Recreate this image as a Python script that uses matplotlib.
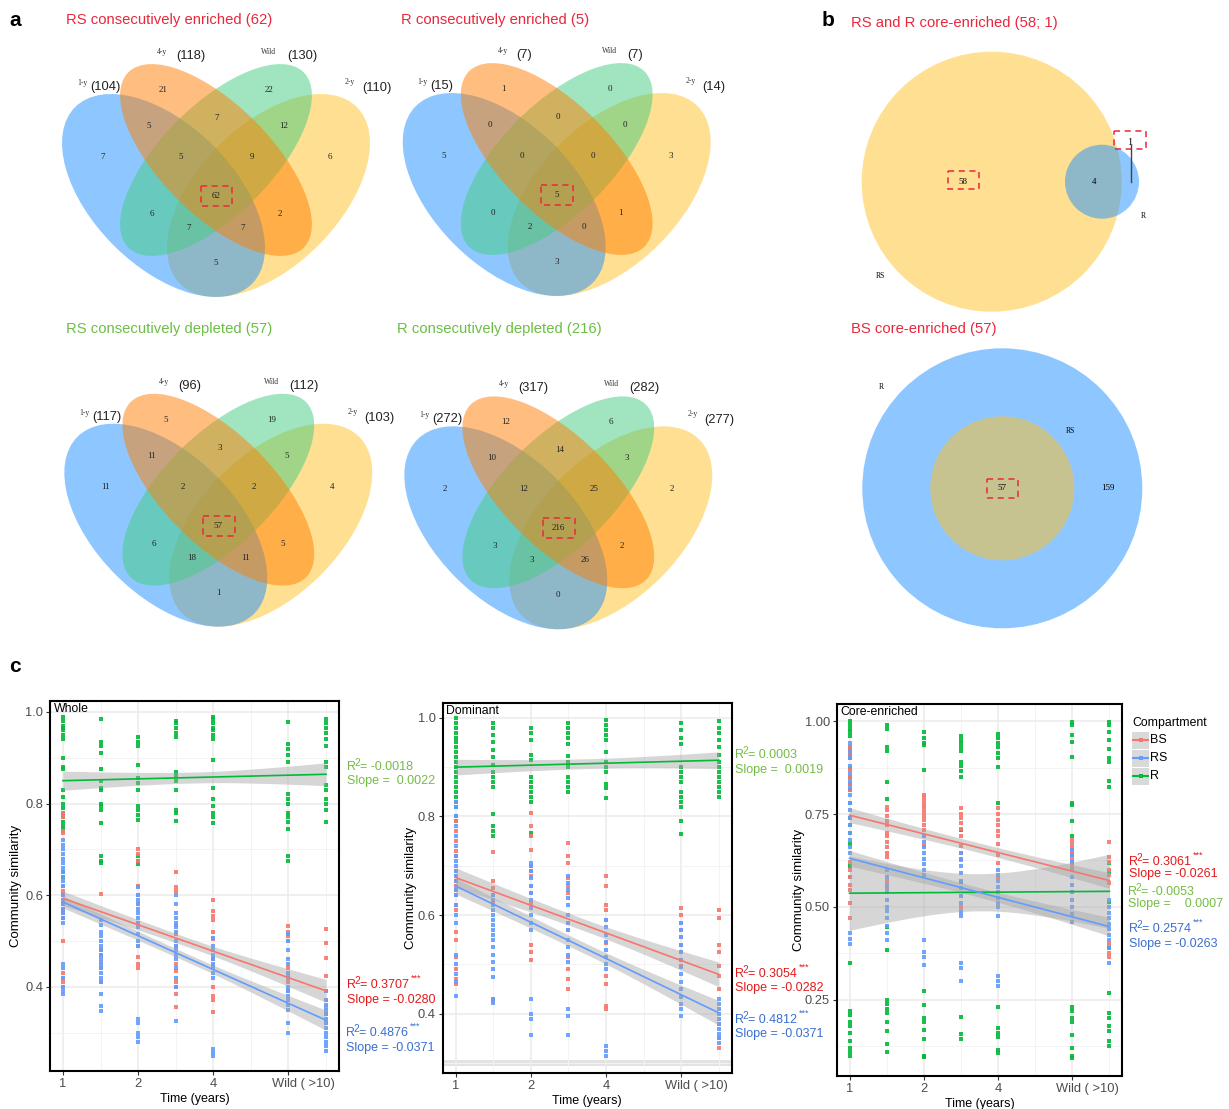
import numpy as np
import matplotlib
matplotlib.use("Agg")
import matplotlib.pyplot as plt
from matplotlib.patches import Ellipse, Circle, Rectangle
import matplotlib.transforms as mtransforms

plt.rcParams['font.family'] = ['Liberation Sans', 'DejaVu Sans']

W, H = 1229, 1109

# ---------------- panel a: four-set Venn counts ----------------
set_names = ["1-y", "4-y", "Wild", "2-y"]
# region order: 4y, W, 1y4y, 4yW, W2y, 1y, 1y4yW, 4yW2y, 2y, all, 1yW, 4y2y, 1yW2y, 1y4y2y, 1y2y
rs_enriched = [21, 22, 5, 7, 12, 7, 5, 9, 6, 62, 6, 2, 7, 7, 5]
r_enriched = [1, 0, 0, 0, 0, 5, 0, 0, 3, 5, 0, 1, 2, 0, 3]
rs_depleted = [5, 19, 11, 3, 5, 11, 2, 2, 4, 57, 6, 5, 18, 11, 1]
r_depleted = [12, 6, 10, 14, 3, 2, 12, 25, 2, 216, 3, 2, 3, 26, 0]
rs_enriched_tot = [104, 118, 130, 110]
r_enriched_tot = [15, 7, 7, 14]
rs_depleted_tot = [117, 96, 112, 103]
r_depleted_tot = [272, 317, 282, 277]
venn_titles = ["RS consecutively enriched (62)", "R consecutively enriched (5)",
               "RS consecutively depleted (57)", "R consecutively depleted (216)"]

# ---------------- panel b: two-set Venn counts ----------------
core_rs_only, core_both, core_r_only = 58, 4, 1
bs_core, bs_r_only = 57, 159

# ---------------- panel c: community similarity ----------------
time_pos = [1, 2, 3, 4, 5, 7, 8]
tick_pos = [1, 3, 5, 7]
tick_labels = ["1", "2", "4", "Wild ( >10)"]
compartments = ["BS", "RS", "R"]
comp_colors = {"BS": "#F8766D", "RS": "#619CFF", "R": "#00BA38"}

whole_R = [
    [0.99, 0.98, 0.97, 0.965, 0.96, 0.95, 0.94, 0.90, 0.88, 0.875, 0.83, 0.815, 0.80, 0.79, 0.78, 0.77, 0.76, 0.75, 0.745, 0.65, 0.64],
    [0.985, 0.935, 0.925, 0.91, 0.875, 0.85, 0.835, 0.83, 0.80, 0.795, 0.785, 0.757, 0.685, 0.675, 0.67],
    [0.945, 0.935, 0.925, 0.885, 0.855, 0.845, 0.83, 0.795, 0.785, 0.775, 0.765, 0.685, 0.675, 0.668],
    [0.98, 0.975, 0.965, 0.955, 0.945, 0.87, 0.86, 0.85, 0.83, 0.785, 0.78, 0.763],
    [0.99, 0.985, 0.975, 0.965, 0.96, 0.95, 0.94, 0.895, 0.835, 0.81, 0.795, 0.78, 0.77, 0.757],
    [0.978, 0.93, 0.92, 0.905, 0.89, 0.82, 0.81, 0.80, 0.78, 0.77, 0.76, 0.745, 0.685, 0.675],
    [0.985, 0.975, 0.965, 0.955, 0.94, 0.925, 0.89, 0.88, 0.84, 0.83, 0.81, 0.80, 0.785, 0.76],
]
whole_BS = [
    [0.78, 0.77, 0.74, 0.735, 0.62, 0.61, 0.60, 0.58, 0.57, 0.56, 0.55, 0.50, 0.43, 0.42, 0.41, 0.40],
    [0.602, 0.48, 0.47, 0.455, 0.44, 0.41],
    [0.70, 0.69, 0.675, 0.62, 0.60, 0.58, 0.54, 0.49, 0.465, 0.45, 0.44],
    [0.65, 0.617, 0.61, 0.535, 0.515, 0.49, 0.45, 0.435, 0.41, 0.40, 0.385, 0.355],
    [0.59, 0.565, 0.555, 0.545, 0.52, 0.505, 0.46, 0.445, 0.40, 0.38, 0.37, 0.345],
    [0.532, 0.52, 0.51, 0.50, 0.44, 0.425, 0.41, 0.39],
    [0.527, 0.496, 0.463, 0.423, 0.39, 0.37, 0.355, 0.34, 0.32],
]
whole_RS = [
    [0.72, 0.71, 0.70, 0.69, 0.68, 0.67, 0.66, 0.65, 0.64, 0.63, 0.62, 0.60, 0.59, 0.58, 0.57, 0.56, 0.55, 0.54, 0.45, 0.44, 0.42, 0.40, 0.39, 0.385],
    [0.545, 0.535, 0.52, 0.51, 0.50, 0.49, 0.48, 0.47, 0.46, 0.45, 0.44, 0.43, 0.42, 0.41, 0.385, 0.357, 0.348],
    [0.617, 0.60, 0.59, 0.58, 0.57, 0.56, 0.55, 0.54, 0.53, 0.515, 0.50, 0.49, 0.33, 0.32, 0.30, 0.29, 0.28],
    [0.60, 0.58, 0.56, 0.55, 0.54, 0.53, 0.52, 0.50, 0.49, 0.48, 0.47, 0.46, 0.44, 0.42, 0.40, 0.325],
    [0.507, 0.49, 0.48, 0.47, 0.46, 0.45, 0.44, 0.43, 0.42, 0.265, 0.255, 0.248],
    [0.515, 0.50, 0.48, 0.46, 0.45, 0.43, 0.42, 0.40, 0.39, 0.38, 0.37, 0.36, 0.35, 0.32, 0.30],
    [0.39, 0.37, 0.36, 0.35, 0.34, 0.33, 0.32, 0.31, 0.30, 0.29, 0.28, 0.27, 0.26],
]
dom_R = [
    [1.0, 0.99, 0.98, 0.97, 0.96, 0.95, 0.94, 0.93, 0.92, 0.91, 0.90, 0.89, 0.88, 0.87, 0.86, 0.85, 0.84, 0.83, 0.82, 0.80, 0.79],
    [0.99, 0.98, 0.965, 0.95, 0.935, 0.92, 0.905, 0.89, 0.88, 0.87, 0.86, 0.805, 0.78, 0.77, 0.76],
    [0.98, 0.97, 0.955, 0.925, 0.915, 0.88, 0.87, 0.86, 0.85, 0.84, 0.83, 0.767, 0.76],
    [0.99, 0.98, 0.97, 0.96, 0.947, 0.922, 0.91, 0.90, 0.88, 0.87, 0.86, 0.85],
    [0.995, 0.985, 0.975, 0.965, 0.955, 0.93, 0.91, 0.90, 0.89, 0.865, 0.858, 0.838],
    [0.99, 0.975, 0.96, 0.947, 0.90, 0.89, 0.88, 0.87, 0.85, 0.84, 0.83, 0.82, 0.79, 0.765],
    [0.993, 0.98, 0.97, 0.955, 0.94, 0.925, 0.91, 0.90, 0.89, 0.88, 0.87, 0.86, 0.85, 0.84],
]
dom_BS = [
    [0.79, 0.77, 0.75, 0.73, 0.72, 0.69, 0.68, 0.67, 0.66, 0.65, 0.64, 0.62, 0.61, 0.565, 0.55, 0.515, 0.49, 0.47, 0.46],
    [0.727, 0.67, 0.655, 0.64, 0.625, 0.43, 0.425],
    [0.807, 0.78, 0.76, 0.733, 0.70, 0.69, 0.68, 0.66, 0.645, 0.625, 0.54, 0.525, 0.51],
    [0.747, 0.72, 0.705, 0.676, 0.66, 0.645, 0.585, 0.57, 0.515, 0.49, 0.47, 0.45],
    [0.68, 0.66, 0.62, 0.61, 0.59, 0.544, 0.476, 0.46, 0.415, 0.41],
    [0.615, 0.60, 0.585, 0.57, 0.555, 0.54, 0.525, 0.51, 0.497],
    [0.611, 0.595, 0.54, 0.525, 0.497, 0.476, 0.45, 0.38, 0.35, 0.33],
]
dom_RS = [
    [0.83, 0.82, 0.80, 0.78, 0.76, 0.74, 0.72, 0.71, 0.70, 0.69, 0.68, 0.67, 0.65, 0.64, 0.62, 0.60, 0.585, 0.52, 0.50, 0.48, 0.465, 0.436],
    [0.64, 0.63, 0.62, 0.61, 0.60, 0.59, 0.58, 0.57, 0.56, 0.55, 0.535, 0.52, 0.505, 0.49, 0.475, 0.43, 0.422],
    [0.706, 0.70, 0.69, 0.675, 0.66, 0.645, 0.63, 0.615, 0.60, 0.585, 0.57, 0.43, 0.40, 0.39, 0.358],
    [0.68, 0.665, 0.65, 0.635, 0.62, 0.60, 0.585, 0.57, 0.55, 0.535, 0.52, 0.505, 0.41, 0.395, 0.358],
    [0.59, 0.575, 0.56, 0.545, 0.53, 0.515, 0.50, 0.49, 0.335, 0.325, 0.315],
    [0.585, 0.57, 0.555, 0.54, 0.525, 0.51, 0.495, 0.48, 0.465, 0.45, 0.435, 0.42, 0.41, 0.395],
    [0.43, 0.42, 0.41, 0.40, 0.39, 0.38, 0.37, 0.36, 0.35, 0.34],
]
core_R = [
    [1.0, 0.99, 0.98, 0.97, 0.96, 0.93, 0.91, 0.90, 0.875, 0.85, 0.83, 0.815, 0.78, 0.74, 0.72, 0.70, 0.67, 0.61, 0.58, 0.35, 0.22, 0.21, 0.19, 0.18, 0.16, 0.14, 0.12, 0.11, 0.10],
    [0.99, 0.98, 0.93, 0.92, 0.837, 0.79, 0.447, 0.385, 0.25, 0.24, 0.225, 0.215, 0.19, 0.165, 0.13, 0.11],
    [0.97, 0.955, 0.94, 0.935, 0.868, 0.273, 0.237, 0.20, 0.19, 0.17, 0.145, 0.10, 0.095],
    [0.96, 0.95, 0.94, 0.93, 0.92, 0.89, 0.88, 0.865, 0.85, 0.707, 0.568, 0.205, 0.157, 0.145],
    [0.965, 0.955, 0.94, 0.93, 0.915, 0.90, 0.877, 0.78, 0.232, 0.175, 0.16, 0.15, 0.116, 0.107],
    [0.998, 0.99, 0.962, 0.945, 0.904, 0.78, 0.773, 0.73, 0.69, 0.232, 0.22, 0.20, 0.19, 0.156, 0.12, 0.10, 0.093],
    [0.998, 0.99, 0.97, 0.95, 0.925, 0.90, 0.89, 0.84, 0.823, 0.617, 0.595, 0.514, 0.39, 0.268, 0.215, 0.20, 0.18, 0.165, 0.14, 0.125],
]
core_BS = [
    [0.93, 0.92, 0.91, 0.90, 0.87, 0.85, 0.83, 0.815, 0.62, 0.60, 0.58, 0.56, 0.545, 0.51, 0.47],
    [0.77, 0.76, 0.745, 0.73, 0.72, 0.70, 0.69, 0.675, 0.66, 0.645, 0.635, 0.57, 0.55],
    [0.80, 0.795, 0.785, 0.775, 0.765, 0.755, 0.745, 0.735, 0.72, 0.707, 0.69, 0.665],
    [0.765, 0.75, 0.74, 0.725, 0.71, 0.69, 0.663, 0.645, 0.626, 0.53, 0.50, 0.483],
    [0.765, 0.75, 0.735, 0.72, 0.705, 0.69, 0.67, 0.64, 0.617, 0.58],
    [0.68, 0.67, 0.66, 0.65, 0.64, 0.63, 0.62, 0.61],
    [0.676, 0.635, 0.62, 0.60, 0.585, 0.565, 0.40, 0.375, 0.366],
]
core_RS = [
    [0.94, 0.92, 0.90, 0.88, 0.86, 0.84, 0.82, 0.80, 0.78, 0.76, 0.74, 0.72, 0.70, 0.68, 0.66, 0.645, 0.43, 0.415, 0.40],
    [0.60, 0.58, 0.56, 0.54, 0.52, 0.50, 0.49, 0.47, 0.45, 0.43, 0.41],
    [0.69, 0.675, 0.66, 0.645, 0.63, 0.615, 0.60, 0.585, 0.41, 0.38, 0.365, 0.345],
    [0.645, 0.63, 0.61, 0.59, 0.57, 0.55, 0.53, 0.51, 0.49, 0.475, 0.35, 0.335, 0.30],
    [0.60, 0.585, 0.57, 0.555, 0.54, 0.525, 0.51, 0.50, 0.475, 0.313, 0.30, 0.286],
    [0.653, 0.64, 0.62, 0.60, 0.58, 0.56, 0.54, 0.52, 0.50, 0.48, 0.46],
    [0.52, 0.50, 0.485, 0.47, 0.455, 0.44, 0.425, 0.41, 0.39, 0.35],
]

# fitted line (start, end) and ribbon half widths (start, middle, end)
whole_fit = {"BS": (0.593, 0.391), "RS": (0.585, 0.327), "R": (0.850, 0.864)}
whole_band = {"BS": (0.016, 0.010, 0.025), "RS": (0.013, 0.009, 0.022), "R": (0.021, 0.012, 0.025)}
dom_fit = {"BS": (0.676, 0.480), "RS": (0.659, 0.402), "R": (0.900, 0.914)}
dom_band = {"BS": (0.020, 0.012, 0.025), "RS": (0.016, 0.011, 0.025), "R": (0.016, 0.010, 0.017)}
core_fit = {"BS": (0.747, 0.571), "RS": (0.631, 0.447), "R": (0.537, 0.542)}
core_band = {"BS": (0.020, 0.013, 0.021), "RS": (0.021, 0.013, 0.025), "R": (0.100, 0.050, 0.100)}

whole_stats = {"R": ("-0.0018", " 0.0022"), "BS": ("0.3707", "-0.0280"), "RS": ("0.4876", "-0.0371")}
dom_stats = {"R": ("0.0003", " 0.0019"), "BS": ("0.3054", "-0.0282"), "RS": ("0.4812", "-0.0371")}
core_stats = {"BS": ("0.3061", "-0.0261"), "R": ("-0.0053", "   0.0007"), "RS": ("0.2574", "-0.0263")}

RED_T = "#E8283C"
GREEN_T = "#6DBE45"
TXT = {"BS": "#E41A1C", "RS": "#3A6FCF", "R": "#74BD44"}

fig = plt.figure(figsize=(W / 100, H / 100), dpi=100)

# overlay in pixel coordinates for Venn diagrams and free text
ov = fig.add_axes([0, 0, 1, 1])
ov.set_xlim(0, W)
ov.set_ylim(H, 0)
ov.axis("off")

# Venn template (relative to first diagram)
ell_specs = [  # yellow, blue, green, orange (drawing order)
    ((268.5, 195.5), 125, 70.5, -45, "#FFC125"),
    ((163.5, 195.5), 125, 70.5, 45, "#1E90FF"),
    ((216, 160), 124, 55, -45, "#43CD80"),
    ((216, 160), 124, 55, 45, "#FF7F00"),
]
region_xy = [(163, 90), (269, 90), (149, 126), (217, 118), (284, 126), (103, 157), (181, 157),
             (252, 157), (330, 157), (216, 196), (152, 214), (280, 214), (189, 228), (243, 228), (216, 263)]
name_xy = [(82, 83), (162, 52), (269, 52), (350, 82)]
total_xy = [(90, 87), (176, 56), (287, 56), (362, 88)]

venn_sets = [(rs_enriched, rs_enriched_tot, (0, 0), RED_T),
             (r_enriched, r_enriched_tot, (340.7, -1), RED_T),
             (rs_depleted, rs_depleted_tot, (2.3, 329.7), GREEN_T),
             (r_depleted, r_depleted_tot, (342.3, 332.3), GREEN_T)]
title_xy = [(66, 20), (401, 20), (66, 329), (397, 329)]

for k, (counts, totals, (ox, oy), tcol) in enumerate(venn_sets):
    for (cx, cy), a, b, ang, col in ell_specs:
        ov.add_patch(Ellipse((cx + ox, cy + oy), 2 * a, 2 * b, angle=ang,
                             facecolor=col, alpha=0.5, edgecolor="none"))
    for (x, y), c in zip(region_xy, counts):
        ov.text(x + ox, y + oy, str(c), ha="center", va="center", fontsize=6.5,
                family="Liberation Serif", color="#222222")
    for (x, y), nm in zip(name_xy, set_names):
        ov.text(x + ox, y + oy, nm, ha="center", va="center", fontsize=5.5,
                family="Liberation Serif", color="#333333")
    for (x, y), t in zip(total_xy, totals):
        ov.text(x + ox, y + oy, "(%d)" % t, ha="left", va="center", fontsize=9.3, color="#222222")
    ov.add_patch(Rectangle((200.7 + ox, 186 + oy), 31.6, 20, fill=False,
                           edgecolor="#E8283C", lw=1.1, ls=(0, (4, 3))))
    tx, ty = title_xy[k]
    ov.text(tx, ty, venn_titles[k], ha="left", va="center", fontsize=10.7, color=tcol)

# panel b top
ov.add_patch(Circle((991.7, 181.7), 130, facecolor="#FFC125", alpha=0.5, edgecolor="none"))
ov.add_patch(Circle((1102, 181.7), 37, facecolor="#1E90FF", alpha=0.5, edgecolor="none"))
ov.text(963, 181.7, str(core_rs_only), ha="center", va="center", fontsize=6.5, family="Liberation Serif")
ov.text(1094, 181.7, str(core_both), ha="center", va="center", fontsize=6.5, family="Liberation Serif")
ov.text(1129.3, 142.7, str(core_r_only), ha="center", va="center", fontsize=7.5, family="Liberation Serif")
ov.plot([1130.7, 1130.7], [145, 181.7], color="#444444", lw=1)
ov.add_patch(Rectangle((947.7, 170.7), 31.3, 18.6, fill=False, edgecolor="#E8283C", lw=1.1, ls=(0, (4, 3))))
ov.add_patch(Rectangle((1114.3, 130.7), 31.4, 18.6, fill=False, edgecolor="#E8283C", lw=1.1, ls=(0, (4, 3))))
ov.text(880, 275.7, "RS", ha="center", va="center", fontsize=5.5, family="Liberation Serif")
ov.text(1143.3, 216, "R", ha="center", va="center", fontsize=5.5, family="Liberation Serif")
ov.text(851, 23, "RS and R core-enriched (58; 1)", ha="left", va="center", fontsize=10.7, color=RED_T)

# panel b bottom
ov.add_patch(Circle((1002.3, 488.3), 140, facecolor="#1E90FF", alpha=0.5, edgecolor="none"))
ov.add_patch(Circle((1002.3, 488.3), 72, facecolor="#FFC125", alpha=0.5, edgecolor="none"))
ov.text(1002.3, 488.3, str(bs_core), ha="center", va="center", fontsize=6.5, family="Liberation Serif")
ov.text(1108.3, 488.3, str(bs_r_only), ha="center", va="center", fontsize=6.5, family="Liberation Serif")
ov.add_patch(Rectangle((986.7, 479), 31, 19.3, fill=False, edgecolor="#E8283C", lw=1.1, ls=(0, (4, 3))))
ov.text(881.7, 386.7, "R", ha="center", va="center", fontsize=5.5, family="Liberation Serif")
ov.text(1070.7, 431, "RS", ha="center", va="center", fontsize=5.5, family="Liberation Serif")
ov.text(851, 329, "BS core-enriched (57)", ha="left", va="center", fontsize=10.7, color=RED_T)

# panel letters
ov.text(15, 20, "a", ha="center", va="center", fontsize=15, fontweight="bold")
ov.text(828, 20, "b", ha="center", va="center", fontsize=15, fontweight="bold")
ov.text(15, 667, "c", ha="center", va="center", fontsize=15, fontweight="bold")


def band_hw(x, hw):
    s, m, e = hw
    t = (x - 4.5) / 3.5
    edge = np.where(x < 4.5, s, e)
    return np.sqrt(m ** 2 + (edge ** 2 - m ** 2) * t ** 2)


def sim_panel(rect_px, ylim, yticks, ylabels, yminor, data, fits, bands, title, ylab_px):
    l, t, r, b = rect_px
    ax = fig.add_axes([l / W, 1 - b / H, (r - l) / W, (b - t) / H])
    ax.set_xlim(1 - 13 / 37.6, 8 + 13 / 37.6)
    ax.set_ylim(*ylim)
    ax.set_xticks(tick_pos)
    ax.set_xticklabels(tick_labels)
    ax.set_xticks([2, 4, 6, 8], minor=True)
    ax.set_yticks(yticks)
    ax.set_yticklabels(ylabels)
    ax.set_yticks(yminor, minor=True)
    ax.grid(which="major", color="#EBEBEB", lw=1.1, zorder=0)
    ax.grid(which="minor", color="#F3F3F3", lw=0.7, zorder=0)
    ax.set_axisbelow(True)
    ax.tick_params(which="major", length=3, color="#333333", labelcolor="#4D4D4D", labelsize=9.3, pad=2)
    ax.tick_params(which="minor", length=0)
    for sp in ax.spines.values():
        sp.set_linewidth(1.5)
        sp.set_color("black")
    lab = ax.get_xticklabels()[-1]
    lab.set_transform(lab.get_transform() + mtransforms.ScaledTranslation(0.15, 0, fig.dpi_scale_trans))
    for comp in ["R", "BS", "RS"]:
        for x, vals in zip(time_pos, data[comp]):
            ax.scatter([x] * len(vals), vals, marker="s", s=10, color=comp_colors[comp],
                       alpha=0.9, linewidths=0, zorder=2)
    xs = np.linspace(1, 8, 60)
    for comp in ["R", "BS", "RS"]:
        y0, y1 = fits[comp]
        yy = y0 + (y1 - y0) * (xs - 1) / 7
        hw = band_hw(xs, bands[comp])
        ax.fill_between(xs, yy - hw, yy + hw, color="#A6A6A6", alpha=0.45, lw=0, zorder=3)
        ax.plot([1, 8], [y0, y1], color=comp_colors[comp], lw=1.2, zorder=4)
    ax.text(0.012, 0.995, title, transform=ax.transAxes, ha="left", va="top", fontsize=8.8)
    ax.set_xlabel("Time (years)", fontsize=9)
    ax.xaxis.set_label_coords(0.5, -22 / (b - t))
    ax.set_ylabel("Community similarity", fontsize=9.5)
    ax.yaxis.set_label_coords(-(l - ylab_px - 7) / (r - l), 0.5)
    return ax


ax1 = sim_panel((50, 701, 339, 1071), (0.216, 1.024), [0.4, 0.6, 0.8, 1.0], ["0.4", "0.6", "0.8", "1.0"],
                [0.3, 0.5, 0.7, 0.9], {"BS": whole_BS, "RS": whole_RS, "R": whole_R},
                whole_fit, whole_band, "Whole", 15)
ax2 = sim_panel((442.7, 703, 731.7, 1073), (0.280, 1.030), [0.4, 0.6, 0.8, 1.0], ["0.4", "0.6", "0.8", "1.0"],
                [0.3, 0.5, 0.7, 0.9], {"BS": dom_BS, "RS": dom_RS, "R": dom_R},
                dom_fit, dom_band, "Dominant", 410)
ax2.axhspan(0.294, 0.306, color="#E3E3E3", lw=0, zorder=0.5)
ax3 = sim_panel((836.7, 704, 1122.3, 1075.7), (0.046, 1.046), [0.25, 0.5, 0.75, 1.0],
                ["0.25", "0.50", "0.75", "1.00"], [0.125, 0.375, 0.625, 0.875],
                {"BS": core_BS, "RS": core_RS, "R": core_R},
                core_fit, core_band, "Core-enriched", 798)


def stat_text(x, y_r2, y_sl, r2, slope, color, stars=False):
    ov.text(x, y_r2, "R", ha="left", va="center", fontsize=9, color=color)
    ov.text(x + 7.5, y_r2 - 4, "2", ha="left", va="center", fontsize=7.2, color=color)
    t = ov.text(x + 13, y_r2, "= " + r2, ha="left", va="center", fontsize=9, color=color)
    ov.text(x, y_sl, "Slope = " + slope, ha="left", va="center", fontsize=9, color=color)
    if stars:
        ov.annotate("***", xy=(1, 1), xycoords=t, xytext=(1.5, -3), textcoords="offset points",
                    ha="left", va="bottom", fontsize=6.5, color=color)


stat_text(347, 767, 781, whole_stats["R"][0], whole_stats["R"][1], TXT["R"])
stat_text(347, 985, 1000, whole_stats["BS"][0], whole_stats["BS"][1], TXT["BS"], True)
stat_text(346, 1033, 1048, whole_stats["RS"][0], whole_stats["RS"][1], TXT["RS"], True)
stat_text(735, 755, 770, dom_stats["R"][0], dom_stats["R"][1], TXT["R"])
stat_text(735, 974, 988, dom_stats["BS"][0], dom_stats["BS"][1], TXT["BS"], True)
stat_text(735, 1020, 1034, dom_stats["RS"][0], dom_stats["RS"][1], TXT["RS"], True)
stat_text(1129, 862, 874, core_stats["BS"][0], core_stats["BS"][1], TXT["BS"], True)
stat_text(1128, 892, 904, core_stats["R"][0], core_stats["R"][1], TXT["R"])
stat_text(1129, 929, 944, core_stats["RS"][0], core_stats["RS"][1], TXT["RS"], True)

# legend
ov.text(1132, 723, "Compartment", ha="left", va="center", fontsize=8.8)
for i, comp in enumerate(compartments):
    yc = 740 + 18 * i
    ov.add_patch(Rectangle((1132, yc - 8), 17, 16.5, facecolor="#D9D9D9", edgecolor="none"))
    ov.plot([1133, 1148], [yc, yc], color=comp_colors[comp], lw=1.5)
    ov.plot([1140.5], [yc], marker="s", ms=2.5, color=comp_colors[comp], mew=0)
    ov.text(1150, yc, comp, ha="left", va="center", fontsize=9)

fig.savefig("out.png", dpi=100)
